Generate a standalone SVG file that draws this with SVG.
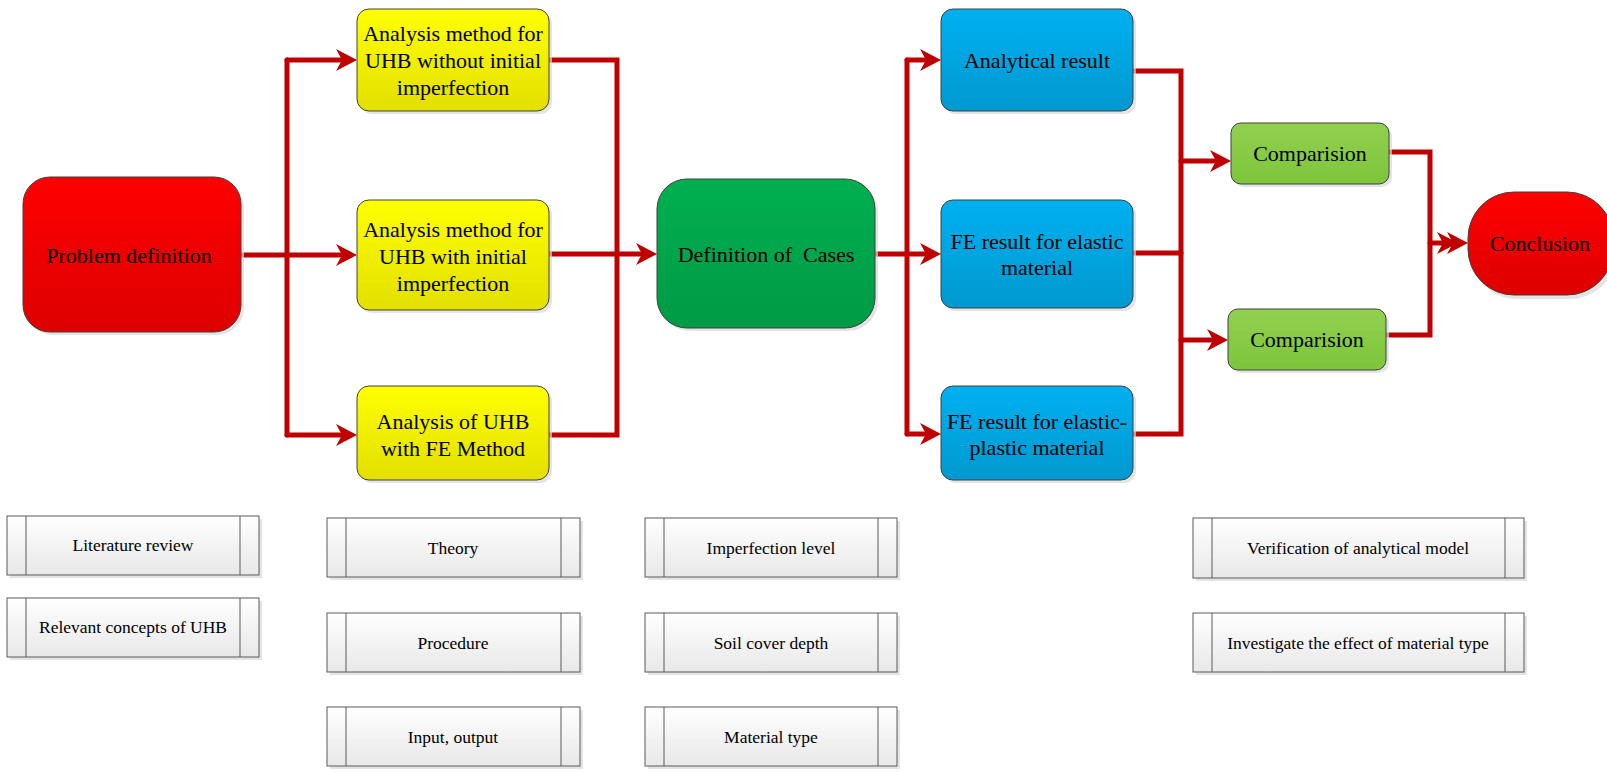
<svg xmlns="http://www.w3.org/2000/svg" width="1607" height="772" viewBox="0 0 1607 772">
<style>
.node{stroke:#404040;stroke-width:1}
.shadow{fill:#d9d9d9;opacity:0.7}
.t{font-family:"Liberation Serif","Times New Roman",serif;font-size:22px;fill:#000;text-anchor:middle;dominant-baseline:central;white-space:pre}
.ts{font-family:"Liberation Serif","Times New Roman",serif;font-size:17.5px;fill:#000;text-anchor:middle;dominant-baseline:central}
.sub{fill:url(#gGrey);stroke:#5a5a5a;stroke-width:1}
.subl{stroke:#5a5a5a;stroke-width:1}
.c{fill:none;stroke:#C00000;stroke-width:5;stroke-linecap:round;stroke-linejoin:miter}
.ah{fill:#C00000}
</style>
<defs>
<linearGradient id="gRed" x1="0" y1="0" x2="0" y2="1"><stop offset="0" stop-color="#FF0000"/><stop offset="1" stop-color="#DD0000"/></linearGradient>
<linearGradient id="gYel" x1="0" y1="0" x2="0" y2="1"><stop offset="0" stop-color="#FFFF00"/><stop offset="1" stop-color="#E3DF00"/></linearGradient>
<linearGradient id="gGrn" x1="0" y1="0" x2="0" y2="1"><stop offset="0" stop-color="#00B050"/><stop offset="1" stop-color="#009A45"/></linearGradient>
<linearGradient id="gBlu" x1="0" y1="0" x2="0" y2="1"><stop offset="0" stop-color="#00B0F0"/><stop offset="1" stop-color="#0099D0"/></linearGradient>
<linearGradient id="gLg" x1="0" y1="0" x2="0" y2="1"><stop offset="0" stop-color="#92D050"/><stop offset="1" stop-color="#7DC53A"/></linearGradient>
<linearGradient id="gGrey" x1="0" y1="0" x2="0" y2="1"><stop offset="0" stop-color="#FFFFFF"/><stop offset="1" stop-color="#E8E8E8"/></linearGradient>
<polygon id="arr" class="ah" points="0,0 -21,-11 -15,0 -21,11"/>
</defs>

<g id="connectors">
<path class="c" d="M241,255 H340"/>
<path class="c" d="M287,60 V435"/>
<path class="c" d="M287,60 H340"/>
<path class="c" d="M287,435 H340"/>
<use href="#arr" x="357" y="60"/>
<use href="#arr" x="357" y="255"/>
<use href="#arr" x="357" y="435"/>
<path class="c" d="M549,60 H617 V435 H549"/>
<path class="c" d="M549,254 H640"/>
<use href="#arr" x="657" y="254"/>
<path class="c" d="M875,254 H924"/>
<path class="c" d="M907,60 V434"/>
<path class="c" d="M907,60 H924"/>
<path class="c" d="M907,434 H924"/>
<use href="#arr" x="941" y="60"/>
<use href="#arr" x="941" y="254"/>
<use href="#arr" x="941" y="434"/>
<path class="c" d="M1133,71 H1181 V434 H1133"/>
<path class="c" d="M1133,253 H1181"/>
<path class="c" d="M1181,161 H1214"/>
<path class="c" d="M1181,340 H1211"/>
<use href="#arr" x="1231" y="161"/>
<use href="#arr" x="1228" y="340"/>
<path class="c" d="M1389,152 H1430 V335 H1386"/>
<path class="c" d="M1430,243 H1450"/>
<use href="#arr" x="1458" y="243"/>
<use href="#arr" x="1468" y="243"/>
</g>

<g id="n-problem">
<rect class="shadow" x="26" y="180" width="218" height="155" rx="27"/>
<rect class="node" x="23" y="177" width="218" height="155" rx="27" fill="url(#gRed)"/>
<text class="t" x="129" y="255">Problem definition</text>
</g>

<g id="n-y1">
<rect class="shadow" x="360" y="12" width="192" height="102" rx="12"/>
<rect class="node" x="357" y="9" width="192" height="102" rx="12" fill="url(#gYel)"/>
<text class="t" x="453" y="33">Analysis method for<tspan x="453" dy="27">UHB without initial</tspan><tspan x="453" dy="27">imperfection</tspan></text>
</g>
<g id="n-y2">
<rect class="shadow" x="360" y="203" width="192" height="110" rx="12"/>
<rect class="node" x="357" y="200" width="192" height="110" rx="12" fill="url(#gYel)"/>
<text class="t" x="453" y="229">Analysis method for<tspan x="453" dy="27">UHB with initial</tspan><tspan x="453" dy="27">imperfection</tspan></text>
</g>
<g id="n-y3">
<rect class="shadow" x="360" y="389" width="192" height="94" rx="12"/>
<rect class="node" x="357" y="386" width="192" height="94" rx="12" fill="url(#gYel)"/>
<text class="t" x="453" y="421">Analysis of UHB<tspan x="453" dy="27">with FE Method</tspan></text>
</g>

<g id="n-definition">
<rect class="shadow" x="660" y="182" width="218" height="149" rx="30"/>
<rect class="node" x="657" y="179" width="218" height="149" rx="30" fill="url(#gGrn)"/>
<text class="t" x="766" y="254" xml:space="preserve">Definition of  Cases</text>
</g>

<g id="n-b1">
<rect class="shadow" x="944" y="12" width="192" height="102" rx="12"/>
<rect class="node" x="941" y="9" width="192" height="102" rx="12" fill="url(#gBlu)"/>
<text class="t" x="1037" y="60">Analytical result</text>
</g>
<g id="n-b2">
<rect class="shadow" x="944" y="203" width="192" height="108" rx="12"/>
<rect class="node" x="941" y="200" width="192" height="108" rx="12" fill="url(#gBlu)"/>
<text class="t" x="1037" y="241">FE result for elastic<tspan x="1037" dy="26">material</tspan></text>
</g>
<g id="n-b3">
<rect class="shadow" x="944" y="389" width="192" height="94" rx="12"/>
<rect class="node" x="941" y="386" width="192" height="94" rx="12" fill="url(#gBlu)"/>
<text class="t" x="1037" y="421">FE result for elastic-<tspan x="1037" dy="26">plastic material</tspan></text>
</g>

<g id="n-c1">
<rect class="shadow" x="1234" y="126" width="158" height="61" rx="10"/>
<rect class="node" x="1231" y="123" width="158" height="61" rx="10" fill="url(#gLg)"/>
<text class="t" x="1310" y="153">Comparision</text>
</g>
<g id="n-c2">
<rect class="shadow" x="1231" y="312" width="158" height="61" rx="10"/>
<rect class="node" x="1228" y="309" width="158" height="61" rx="10" fill="url(#gLg)"/>
<text class="t" x="1307" y="339">Comparision</text>
</g>

<g id="n-conclusion">
<rect class="shadow" x="1471" y="196" width="145" height="103" rx="46"/>
<rect class="node" x="1468" y="192" width="145" height="103" rx="46" fill="url(#gRed)"/>
<text class="t" x="1540" y="243">Conclusion</text>
</g>

<g id="n-lit">
<rect class="shadow" x="10" y="519" width="252" height="59"/>
<rect class="sub" x="7" y="516" width="252" height="59"/>
<path class="subl" d="M26,516 V575 M240,516 V575"/>
<text class="ts" x="133" y="545">Literature review</text>
</g>
<g id="n-rel">
<rect class="shadow" x="10" y="601" width="252" height="59"/>
<rect class="sub" x="7" y="598" width="252" height="59"/>
<path class="subl" d="M26,598 V657 M240,598 V657"/>
<text class="ts" x="133" y="627">Relevant concepts of UHB</text>
</g>

<g id="n-theory">
<rect class="shadow" x="330" y="521" width="253" height="59"/>
<rect class="sub" x="327" y="518" width="253" height="59"/>
<path class="subl" d="M346,518 V577 M561,518 V577"/>
<text class="ts" x="453" y="548">Theory</text>
</g>
<g id="n-procedure">
<rect class="shadow" x="330" y="616" width="253" height="59"/>
<rect class="sub" x="327" y="613" width="253" height="59"/>
<path class="subl" d="M346,613 V672 M561,613 V672"/>
<text class="ts" x="453" y="643">Procedure</text>
</g>
<g id="n-io">
<rect class="shadow" x="330" y="710" width="253" height="59"/>
<rect class="sub" x="327" y="707" width="253" height="59"/>
<path class="subl" d="M346,707 V766 M561,707 V766"/>
<text class="ts" x="453" y="737">Input, output</text>
</g>

<g id="n-imp">
<rect class="shadow" x="648" y="521" width="252" height="59"/>
<rect class="sub" x="645" y="518" width="252" height="59"/>
<path class="subl" d="M664,518 V577 M878,518 V577"/>
<text class="ts" x="771" y="548">Imperfection level</text>
</g>
<g id="n-soil">
<rect class="shadow" x="648" y="616" width="252" height="59"/>
<rect class="sub" x="645" y="613" width="252" height="59"/>
<path class="subl" d="M664,613 V672 M878,613 V672"/>
<text class="ts" x="771" y="643">Soil cover depth</text>
</g>
<g id="n-mat">
<rect class="shadow" x="648" y="710" width="252" height="59"/>
<rect class="sub" x="645" y="707" width="252" height="59"/>
<path class="subl" d="M664,707 V766 M878,707 V766"/>
<text class="ts" x="771" y="737">Material type</text>
</g>

<g id="n-ver">
<rect class="shadow" x="1196" y="521" width="331" height="60"/>
<rect class="sub" x="1193" y="518" width="331" height="60"/>
<path class="subl" d="M1212,518 V578 M1505,518 V578"/>
<text class="ts" x="1358" y="548">Verification of analytical model</text>
</g>
<g id="n-inv">
<rect class="shadow" x="1196" y="616" width="331" height="59"/>
<rect class="sub" x="1193" y="613" width="331" height="59"/>
<path class="subl" d="M1212,613 V672 M1505,613 V672"/>
<text class="ts" x="1358" y="643">Investigate the effect of material type</text>
</g>
</svg>
